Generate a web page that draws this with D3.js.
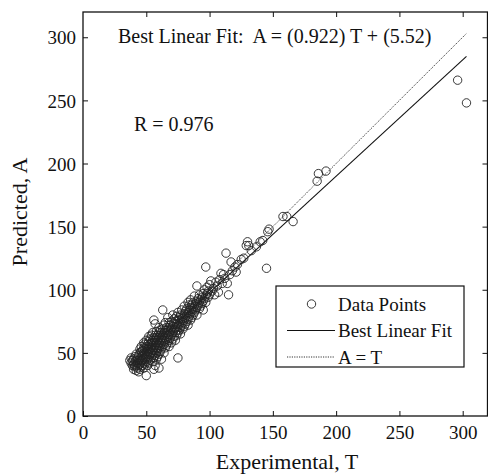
<!DOCTYPE html>
<html><head><meta charset="utf-8">
<script src="https://cdn.jsdelivr.net/npm/d3@7"></script>
<style>body{margin:0;background:#fff}svg{display:block}text{font-family:"Liberation Serif","Times New Roman",serif;fill:#111}</style>
</head><body><div id="chart"></div>
<script>
// Data points: [Experimental T, Predicted A]
const points = [
[37,44],[38,42],[38,46],[39,40],[39,44],[40,37],[40,41],[40,45],[41,39],[41,43],[41,47],[42,36],[42,40],[42,44],[42,49],[43,38],[43,42],[43,46],[44,35],[44,40],[44,44],[44,48],[45,37],[45,41],[45,45],[45,50],[45,53],
[46,39],[46,43],[46,47],[46,51],[46,55],[47,40],[47,44],[47,48],[47,52],[48,38],[48,42],[48,46],[48,50],[48,54],[48,58],[49,41],[49,45],[49,49],[49,53],[49,57],[50,32],[50,43],[50,47],[50,51],[50,55],[50,60],[51,40],[51,45],[51,49],[51,53],[51,57],[52,42],[52,47],[52,51],[52,55],[52,59],[52,63],[53,44],[53,49],[53,53],[53,57],[53,61],[54,46],[54,50],[54,54],[54,58],[54,64],[55,43],[55,48],[55,52],[55,56],[55,60],[55,66],
[56,37],[56,46],[56,50],[56,54],[56,58],[56,62],[56,76],[57,40],[57,48],[57,52],[57,56],[57,60],[57,64],[57,73],[58,45],[58,50],[58,54],[58,58],[58,62],[58,67],[59,47],[59,52],[59,56],[59,60],[59,64],[60,38],[60,49],[60,54],[60,58],[60,62],[60,66],[60,70],[61,51],[61,56],[61,60],[61,64],[61,68],[62,45],[62,53],[62,58],[62,62],[62,66],[63,55],[63,60],[63,64],[63,69],[63,84],[64,50],[64,57],[64,62],[64,66],[64,72],[65,54],[65,59],[65,64],[65,68],[65,74],
[66,56],[66,61],[66,66],[66,70],[67,58],[67,63],[67,68],[67,78],[68,55],[68,60],[68,65],[68,70],[68,74],[69,62],[69,67],[69,72],[70,58],[70,64],[70,69],[70,75],[71,61],[71,66],[71,71],[71,80],[72,63],[72,68],[72,73],[72,77],[73,60],[73,66],[73,70],[73,75],[74,64],[74,68],[74,73],[74,79],[75,46],[75,66],[75,71],[75,76],[75,82],[76,68],[76,73],[76,78],[77,65],[77,70],[77,75],[77,80],[78,72],[78,77],[78,84],[79,69],[79,74],[79,79],[80,71],[80,76],[80,81],[80,87],
[81,73],[81,78],[81,83],[82,75],[82,80],[82,85],[83,72],[83,77],[83,82],[83,90],[84,79],[84,84],[84,88],[85,76],[85,81],[85,86],[85,92],[86,78],[86,83],[86,88],[87,80],[87,85],[87,90],[88,82],[88,87],[88,95],[89,84],[89,89],[90,80],[90,86],[90,91],[90,103],[91,88],[91,93],[92,85],[92,90],[92,96],[93,87],[93,92],[94,89],[94,94],[95,84],[95,91],[95,97],[96,93],[96,100],[97,90],[97,95],[97,118],[98,97],[98,102],[99,94],[99,99],[100,96],[100,104],[101,107],
[102,99],[103,101],[104,96],[105,106],[106,103],[107,98],[108,108],[109,113],[110,105],[111,112],[112,109],[113,129],[114,105],[115,96],[116,112],[117,122],[118,115],[120,118],[121,114],[122,120],[125,124],[127,125],[129,135],[130,138],[131,135],[133,131],
[137,134],[140,138],[142,139],[145,117],[146,146],[147,148],[158,158],[161,158],[166,154],[185,186],[186,192],[192,194],[296,266],[303,248]
];
const fitSlope = 0.922, fitIntercept = 5.52, rValue = 0.976;
const xTicks = [0,50,100,150,200,250,300];
const yTicks = [0,50,100,150,200,250,300];
const legendLabels = ["Data Points","Best Linear Fit","A = T"];

const W = 488, H = 475;
const m = {left:83, top:12, right:0, bottom:59};
const svg = d3.select("#chart").append("svg").attr("width",W).attr("height",H);
const x = d3.scaleLinear().domain([0,320]).range([m.left, W - m.right]);
const y = d3.scaleLinear().domain([0,320]).range([H - m.bottom, m.top]);

// axes: bottom & left with labels, top & right ticks only; ticks inward
const gx = svg.append("g").attr("transform",`translate(0,${y(0)})`)
  .call(d3.axisBottom(x).tickValues(xTicks).tickSizeInner(-5).tickSizeOuter(0).tickPadding(10));
const gy = svg.append("g").attr("transform",`translate(${x(0)},0)`)
  .call(d3.axisLeft(y).tickValues(yTicks).tickSizeInner(-5).tickSizeOuter(0).tickPadding(7));
const gt = svg.append("g").attr("transform",`translate(0,${y(320)})`)
  .call(d3.axisTop(x).tickValues(xTicks.slice(1)).tickSizeInner(-5).tickSizeOuter(0).tickFormat(""));
const gr = svg.append("g").attr("transform",`translate(${x(320)-0.5},0)`)
  .call(d3.axisRight(y).tickValues(yTicks.slice(1)).tickSizeInner(-5).tickSizeOuter(0).tickFormat(""));
[gx,gy,gt,gr].forEach(g=>{
  g.select(".domain").remove();
  g.selectAll("line").attr("stroke","#111");
  g.selectAll("text").style("font-family",'"Liberation Serif",serif').style("font-size","19px").attr("fill","#111");
});
gy.selectAll("text").attr("dy","0.35em");
gx.selectAll("text").attr("dy","0.71em");
// box
svg.append("rect").attr("x",x(0)).attr("y",y(320)).attr("width",x(320)-x(0)-0.5).attr("height",y(0)-y(320))
  .attr("fill","none").attr("stroke","#111").attr("stroke-width",1.3);

// lines
const tMin = d3.min(points,d=>d[0]), tMax = d3.max(points,d=>d[0]);
svg.append("line").attr("x1",x(tMin)).attr("y1",y(tMin)).attr("x2",x(tMax)).attr("y2",y(tMax))
  .attr("stroke","#333").attr("stroke-width",1).attr("stroke-dasharray","1.2,1.2");
svg.append("line").attr("x1",x(tMin)).attr("y1",y(fitSlope*tMin+fitIntercept)).attr("x2",x(tMax)).attr("y2",y(fitSlope*tMax+fitIntercept))
  .attr("stroke","#111").attr("stroke-width",1.1);

// points
svg.append("g").selectAll("circle").data(points).join("circle")
  .attr("cx",d=>x(d[0])).attr("cy",d=>y(d[1])).attr("r",4.2)
  .attr("fill","none").attr("stroke","#222").attr("stroke-width",0.9);

// annotations
svg.append("text").attr("x",118).attr("y",43).style("font-size","20px").style("white-space","pre")
  .text(`Best Linear Fit:  A = (${fitSlope}) T + (${fitIntercept})`);
svg.append("text").attr("x",134).attr("y",131).style("font-size","20px").text(`R = ${rValue}`);

// axis titles
svg.append("text").attr("x",287).attr("y",469).attr("text-anchor","middle").style("font-size","22px").text("Experimental, T");
svg.append("text").attr("transform","translate(27,212) rotate(-90)").attr("text-anchor","middle").style("font-size","22px").text("Predicted, A");

// legend
const lg = svg.append("g");
lg.append("rect").attr("x",276).attr("y",286).attr("width",188).attr("height",81).attr("fill","#fff").attr("stroke","#111").attr("stroke-width",1.2);
const rows = [304,330.5,357];
lg.append("circle").attr("cx",311.5).attr("cy",rows[0]).attr("r",4.2).attr("fill","none").attr("stroke","#222").attr("stroke-width",0.9);
lg.append("line").attr("x1",287).attr("x2",335).attr("y1",rows[1]).attr("y2",rows[1]).attr("stroke","#111").attr("stroke-width",1.1);
lg.append("line").attr("x1",287).attr("x2",335).attr("y1",rows[2]).attr("y2",rows[2]).attr("stroke","#333").attr("stroke-width",1).attr("stroke-dasharray","1.2,1.2");
lg.selectAll("text.l").data(legendLabels).join("text").attr("class","l")
  .attr("x",338).attr("y",(d,i)=>rows[i]+6.5).style("font-size","19px").text(d=>d);
</script></body></html>
